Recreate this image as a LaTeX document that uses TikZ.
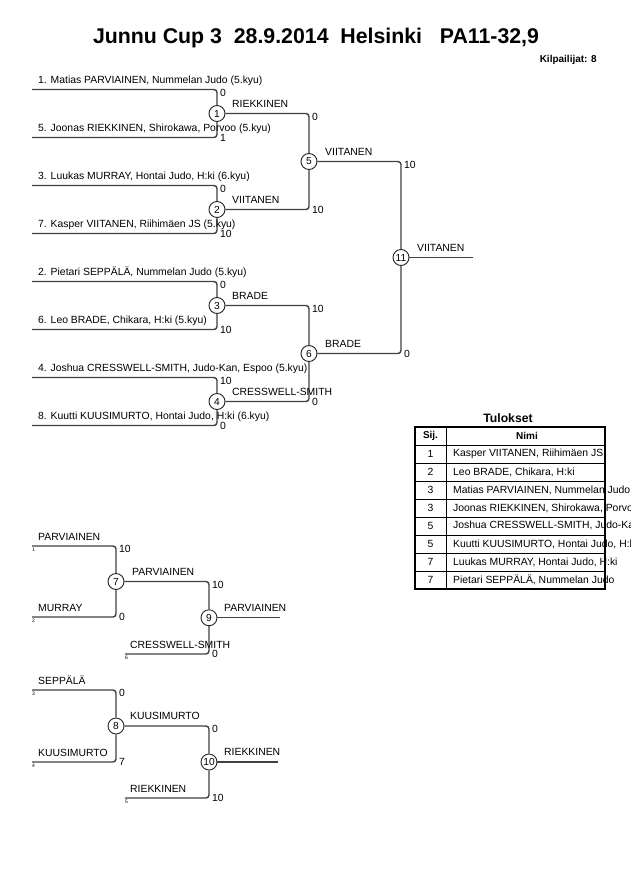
\documentclass[tikz,border=0pt]{standalone}
\usepackage{fontspec}
\setmainfont{Liberation Sans}
\begin{document}
\begin{tikzpicture}[x=1pt,y=-1pt,
  lbl/.style={font=\fontsize{10.4}{12}\selectfont, inner sep=0pt, anchor=base west},
  sc/.style={font=\fontsize{10.4}{12}\selectfont, inner sep=0pt, anchor=west},
  mc/.style={circle, draw=black!85, line width=0.9pt, minimum size=16pt, inner sep=0.5pt, font=\fontsize{10.2}{12}\selectfont},
  br/.style={draw=black!75, line width=1.4pt, rounded corners=3pt},
  tinynum/.style={font=\fontsize{5}{6}\selectfont, inner sep=0pt, anchor=north west},
  cell/.style={font=\fontsize{10.4}{12}\selectfont, inner sep=0pt},
  hdr/.style={font=\bfseries\fontsize{10}{12}\selectfont, inner sep=0pt},
  tline/.style={draw=black, line width=0.8pt},
]
\useasboundingbox (0,0) rectangle (630,891);

% title
\node[font=\bfseries\fontsize{21.3}{24}\selectfont, inner sep=0pt] (title) at (316,38) {Junnu Cup 3\ \ 28.9.2014\ \ Helsinki\ \ \ PA11-32,9};
\node[font=\bfseries\fontsize{10}{12}\selectfont, inner sep=0pt, anchor=east] (count) at (597,60) {Kilpailijat: 8};

% ---------- main bracket ----------
\coordinate (a1) at (32,89.5);
\coordinate (a2) at (32,137.5);
\coordinate (a3) at (32,185.5);
\coordinate (a4) at (32,233.5);
\coordinate (a5) at (32,281.5);
\coordinate (a6) at (32,329.5);
\coordinate (a7) at (32,377.5);
\coordinate (a8) at (32,425.5);

\node[mc] (m1) at (217,113.5) {1};
\node[mc] (m2) at (217,209.5) {2};
\node[mc] (m3) at (217,305.5) {3};
\node[mc] (m4) at (217,401.5) {4};
\node[mc] (m5) at (309,161.5) {5};
\node[mc] (m6) at (309,353.5) {6};
\node[mc] (m11) at (401,257.5) {11};
\coordinate (w) at (473,257.5);

\draw[br] (a1) -| (m1);
\draw[br] (a2) -| (m1);
\draw[br] (a3) -| (m2);
\draw[br] (a4) -| (m2);
\draw[br] (a5) -| (m3);
\draw[br] (a6) -| (m3);
\draw[br] (a7) -| (m4);
\draw[br] (a8) -| (m4);
\draw[br] (m1) -| (m5);
\draw[br] (m2) -| (m5);
\draw[br] (m3) -| (m6);
\draw[br] (m4) -| (m6);
\draw[br] (m5) -| (m11);
\draw[br] (m6) -| (m11);
\draw[br] (m11) -- (w);

\node[lbl] (n1) at (38,83.5) {1. Matias PARVIAINEN, Nummelan Judo (5.kyu)};
\node[lbl] (n5) at (38,131.5) {5. Joonas RIEKKINEN, Shirokawa, Porvoo (5.kyu)};
\node[lbl] (n3) at (38,179.5) {3. Luukas MURRAY, Hontai Judo, H:ki (6.kyu)};
\node[lbl] (n7) at (38,227.5) {7. Kasper VIITANEN, Riihimäen JS (5.kyu)};
\node[lbl] (n2) at (38,275.5) {2. Pietari SEPPÄLÄ, Nummelan Judo (5.kyu)};
\node[lbl] (n6) at (38,323.5) {6. Leo BRADE, Chikara, H:ki (5.kyu)};
\node[lbl] (n4) at (38,371.5) {4. Joshua CRESSWELL-SMITH, Judo-Kan, Espoo (5.kyu)};
\node[lbl] (n8) at (38,419.5) {8. Kuutti KUUSIMURTO, Hontai Judo, H:ki (6.kyu)};

\node[lbl] (w1) at (232,107) {RIEKKINEN};
\node[lbl] (w2) at (232,203) {VIITANEN};
\node[lbl] (w3) at (232,299) {BRADE};
\node[lbl] (w4) at (232,395) {CRESSWELL-SMITH};
\node[lbl] (w5) at (325,155) {VIITANEN};
\node[lbl] (w6) at (325,347) {BRADE};
\node[lbl] (w11) at (417,251) {VIITANEN};

\node[sc] (s1a) at (220,92.5) {0};
\node[sc] (s1b) at (220,137.5) {1};
\node[sc] (s2a) at (220,188.5) {0};
\node[sc] (s2b) at (220,233.5) {10};
\node[sc] (s3a) at (220,284.5) {0};
\node[sc] (s3b) at (220,329.5) {10};
\node[sc] (s4a) at (220,380.5) {10};
\node[sc] (s4b) at (220,425.5) {0};
\node[sc] (s5a) at (312,116.5) {0};
\node[sc] (s5b) at (312,209.5) {10};
\node[sc] (s6a) at (312,308.5) {10};
\node[sc] (s6b) at (312,401.5) {0};
\node[sc] (s11a) at (404,164.5) {10};
\node[sc] (s11b) at (404,353.5) {0};

% ---------- repechage ----------
\coordinate (r1) at (32,546);
\coordinate (r2) at (32,617);
\coordinate (r3) at (125,654);
\coordinate (r4) at (32,690);
\coordinate (r5) at (32,762);
\coordinate (r6) at (125,798);

\node[mc] (m7) at (116,581.5) {7};
\node[mc] (m9) at (209,617.75) {9};
\node[mc] (m8) at (116,726) {8};
\node[mc] (m10) at (209,762) {10};
\coordinate (o9) at (280,617.75);
\coordinate (o10) at (278,762);

\draw[br] (r1) -| (m7);
\draw[br] (r2) -| (m7);
\draw[br] (m7) -| (m9);
\draw[br] (r3) -| (m9);
\draw[br] (m9) -- (o9);
\draw[br] (r4) -| (m8);
\draw[br] (r5) -| (m8);
\draw[br] (m8) -| (m10);
\draw[br] (r6) -| (m10);
\draw[br] (m10) -- (o10);

\node[lbl] (q1) at (38,540) {PARVIAINEN};
\node[lbl] (q2) at (38,611) {MURRAY};
\node[lbl] (q3) at (130,648) {CRESSWELL-SMITH};
\node[lbl] (q4) at (38,684) {SEPPÄLÄ};
\node[lbl] (q5) at (38,756) {KUUSIMURTO};
\node[lbl] (q6) at (130,792) {RIEKKINEN};
\node[lbl] (q7) at (132,575) {PARVIAINEN};
\node[lbl] (q9) at (224,611.25) {PARVIAINEN};
\node[lbl] (q8) at (130,719.5) {KUUSIMURTO};
\node[lbl] (q10) at (224,755.5) {RIEKKINEN};

\node[tinynum] (t1) at (32,547.5) {1};
\node[tinynum] (t2) at (32,618.5) {2};
\node[tinynum] (t3) at (125,655.5) {6};
\node[tinynum] (t4) at (32,691.5) {3};
\node[tinynum] (t5) at (32,763.5) {4};
\node[tinynum] (t6) at (125,799.5) {5};

\node[sc] (s7a) at (119,549) {10};
\node[sc] (s7b) at (119,617) {0};
\node[sc] (s9a) at (212,584.5) {10};
\node[sc] (s9b) at (212,654) {0};
\node[sc] (s8a) at (119,693) {0};
\node[sc] (s8b) at (119,762) {7};
\node[sc] (s10a) at (212,729) {0};
\node[sc] (s10b) at (212,798) {10};

% ---------- results table ----------
\node[font=\bfseries\fontsize{12.2}{14}\selectfont, inner sep=0pt] (tul) at (508,418) {Tulokset};
\node[hdr] (hs) at (430.5,436) {Sij.};
\node[hdr] (hn) at (527,436) {Nimi};
\begin{scope}
\clip (415,427) rectangle (630,589);
\node[cell] (p1) at (430.5,454) {1};
\node[cell] (p2) at (430.5,472) {2};
\node[cell] (p3) at (430.5,490) {3};
\node[cell] (p4) at (430.5,508) {3};
\node[cell] (p5) at (430.5,526) {5};
\node[cell] (p6) at (430.5,544) {5};
\node[cell] (p7) at (430.5,562) {7};
\node[cell] (p8) at (430.5,580) {7};
\node[cell, anchor=west] (e1) at (453,454) {Kasper VIITANEN, Riihimäen JS};
\node[cell, anchor=west] (e2) at (453,472) {Leo BRADE, Chikara, H:ki};
\node[cell, anchor=west] (e3) at (453,490) {Matias PARVIAINEN, Nummelan Judo};
\node[cell, anchor=west] (e4) at (453,508) {Joonas RIEKKINEN, Shirokawa, Porvoo};
\node[cell, anchor=west] (e5) at (453,526) {Joshua CRESSWELL-SMITH, Judo-Kan, Espoo};
\node[cell, anchor=west] (e6) at (453,544) {Kuutti KUUSIMURTO, Hontai Judo, H:ki};
\node[cell, anchor=west] (e7) at (453,562) {Luukas MURRAY, Hontai Judo, H:ki};
\node[cell, anchor=west] (e8) at (453,580) {Pietari SEPPÄLÄ, Nummelan Judo};
\end{scope}
\foreach \yy in {445,463,481,499,517,535,553,571} {
  \draw[tline] (415,\yy) -- (605,\yy);
}
\draw[tline] (446,427) -- (446,589);
\draw[draw=black, line width=1.6pt] (415,427) rectangle (605,589);
\end{tikzpicture}
\end{document}
